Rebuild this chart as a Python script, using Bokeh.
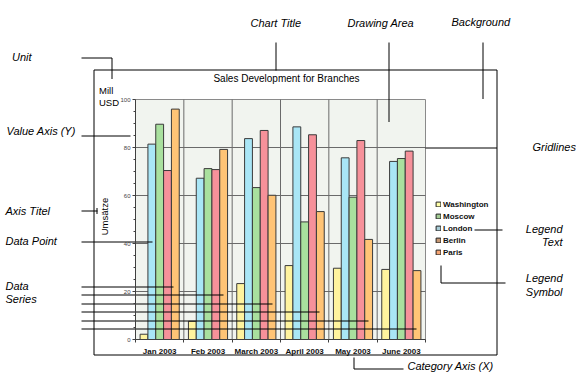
from math import pi
from bokeh.plotting import figure
from bokeh.models import (Range1d, FixedTicker, CustomJSTickFormatter, Label, Legend, LegendItem,
                          ColumnDataSource)
from bokeh.embed import file_html
from bokeh.resources import INLINE

# ---------------- data ----------------
categories = ["Jan 2003", "Feb 2003", "March 2003", "April 2003", "May 2003", "June 2003"]
washington = [2.2, 7.6, 23.3, 30.8, 29.7, 29.2]
london = [81.4, 67.2, 83.7, 88.6, 75.7, 74.2]
moscow = [89.7, 71.2, 63.3, 49.0, 59.3, 75.4]
berlin = [70.4, 70.8, 87.1, 85.3, 82.9, 78.5]
paris = [96.0, 79.2, 60.1, 53.3, 41.7, 28.7]
y_ticks = [0, 20, 40, 60, 80, 100]
y_minor = [5, 10, 15, 25, 30, 35, 45, 50, 55, 65, 70, 75, 85, 90, 95]
title_text = "Sales Development for Branches"
unit_lines = ["Mill", "USD"]
axis_title = "Umsätze"

# bar order in each group (left -> right) and legend order
bar_series = [("Washington", washington, "#FFF39E"),
              ("London", london, "#A9E6F6"),
              ("Moscow", moscow, "#A9E09E"),
              ("Berlin", berlin, "#F6919A"),
              ("Paris", paris, "#FFC476")]
legend_series = [("Washington", "#FFFFA8"),
                 ("Moscow", "#A3CC94"),
                 ("London", "#A8CCD6"),
                 ("Berlin", "#C69874"),
                 ("Paris", "#F6A472")]

FONT = "Liberation Sans"

# ---------------- layout (pixels) ----------------
W, H = 576, 377
PL, PR, PT, PB = 135, 425, 99, 339          # drawing area in the canvas
ncat = len(categories)
ymax = y_ticks[-1]
ux = (PR - PL) / ncat                        # px per category
uy = (PB - PT) / ymax                        # px per value unit

x_range = Range1d(-PL / ux, (W - PL) / ux)
y_range = Range1d(-(H - PB) / uy, PB / uy)

p = figure(width=W, height=H, x_range=x_range, y_range=y_range,
           min_border=0, min_border_left=0, min_border_right=0, min_border_top=0, min_border_bottom=0,
           output_backend="svg", toolbar_location=None, title=None)
p.background_fill_color = "white"
p.border_fill_color = "white"
p.outline_line_color = None
p.xgrid.visible = False
p.ygrid.visible = False

# pixel ranges for the annotation layer
p.extra_x_ranges = {"px": Range1d(0, W)}
p.extra_y_ranges = {"py": Range1d(H, 0)}

# drawing-area background
p.quad(left=[0], right=[ncat], bottom=[0], top=[ymax], fill_color="#F1F4EF", line_color="#8A8A8A")

# grid lines (category boundaries and value ticks)
bounds = list(range(1, ncat))
hgrid = y_ticks[1:-1]
p.segment(x0=bounds, y0=[0] * len(bounds), x1=bounds, y1=[ymax] * len(bounds),
          line_color="#6A6A6A", line_width=1)
p.segment(x0=[0] * len(hgrid), y0=hgrid, x1=[ncat] * len(hgrid), y1=hgrid,
          line_color="#6A6A6A", line_width=1)

# bars
bw = 0.162
n = len(bar_series)
for j, (name, vals, col) in enumerate(bar_series):
    off = (j - (n - 1) / 2) * bw
    xs = [i + 0.5 + off for i in range(ncat)]
    p.vbar(x=xs, top=vals, width=bw, bottom=0, fill_color=col, line_color="#3A3A3A", line_width=1)

# axes (fixed at the drawing area)
p.yaxis.fixed_location = 0
p.yaxis.bounds = (0, ymax)
p.yaxis.ticker = FixedTicker(ticks=y_ticks, minor_ticks=y_minor)
p.yaxis.major_tick_out = 3
p.yaxis.major_tick_in = 0
p.yaxis.minor_tick_out = 2
p.yaxis.minor_tick_in = 0
p.yaxis.major_label_text_font = FONT
p.yaxis.major_label_text_font_size = "6px"
p.yaxis.major_label_text_color = "#444444"
p.yaxis.major_label_standoff = 2
p.yaxis.axis_line_color = "#404040"
p.yaxis.major_tick_line_color = "#404040"
p.yaxis.minor_tick_line_color = "#404040"

p.xaxis.fixed_location = 0
p.xaxis.bounds = (0, ncat)
p.xaxis.ticker = FixedTicker(ticks=[i + 0.5 for i in range(ncat)],
                             minor_ticks=list(range(ncat + 1)))
p.xaxis.formatter = CustomJSTickFormatter(args=dict(labels=categories),
                                          code="return labels[Math.floor(tick)]")
p.xaxis.major_tick_out = 0
p.xaxis.major_tick_in = 0
p.xaxis.minor_tick_out = 3
p.xaxis.minor_tick_in = 0
p.xaxis.major_label_text_font = FONT
p.xaxis.major_label_text_font_size = "8px"
p.xaxis.major_label_text_font_style = "bold"
p.xaxis.major_label_text_color = "#111111"
p.xaxis.major_label_standoff = 4
p.xaxis.axis_line_color = "#404040"
p.xaxis.minor_tick_line_color = "#404040"

# legend (symbols via zero-size renderers carrying the legend colours)
items = []
for name, col in legend_series:
    r = p.vbar(x=[0.5], top=[0], bottom=[0], width=0, fill_color=col, line_color="#222222")
    items.append(LegendItem(label=name, renderers=[r]))
legend = Legend(items=items, location=(435, 120), orientation="vertical", padding=0, margin=0,
                spacing=2, glyph_width=6, glyph_height=6, label_standoff=2,
                label_text_font=FONT, label_text_font_size="8px", label_text_font_style="bold",
                label_height=10, label_text_color="#111111",
                border_line_alpha=0, background_fill_alpha=0)
p.add_layout(legend)


def lbl(x, y, text, size="10px", style="normal", align="left", angle=0.0):
    p.add_layout(Label(x=x, y=y, text=text, x_range_name="px", y_range_name="py",
                       text_font=FONT, text_font_size=size, text_font_style=style,
                       text_align=align, text_baseline="middle", text_color="black",
                       angle=angle))


# chart background border
p.quad(left=[93.5], right=[496.5], top=[69.5], bottom=[354.5], x_range_name="px", y_range_name="py",
       fill_alpha=0, line_color="black", line_width=1)

# chart texts
lbl(286, 78, title_text, size="10px", align="center")
lbl(98.5, 89.5, unit_lines[0], size="9.5px")
lbl(98.5, 101.5, unit_lines[1], size="9.5px")
lbl(103.5, 216, axis_title, size="9.5px", align="center", angle=pi / 2)

# annotation texts
A = "11px"
lbl(11.5, 56, "Unit", A, "italic")
lbl(250, 22, "Chart Title", A, "italic")
lbl(347, 22, "Drawing Area", A, "italic")
lbl(451, 21.5, "Background", A, "italic")
lbl(6, 130.5, "Value Axis (Y)", A, "italic")
lbl(532, 146, "Gridlines", A, "italic")
lbl(5, 210.5, "Axis Titel", A, "italic")
lbl(5, 240.5, "Data Point", A, "italic")
lbl(5, 285, "Data", A, "italic")
lbl(5, 298.5, "Series", A, "italic")
lbl(562, 228.5, "Legend", A, "italic", "right")
lbl(562, 241.5, "Text", A, "italic", "right")
lbl(562, 277.5, "Legend", A, "italic", "right")
lbl(562, 291.5, "Symbol", A, "italic", "right")
lbl(407, 365, "Category Axis (X)", A, "italic")

# leader lines
leaders = [
    (81, 57.5, 111.5, 57.5), (111.5, 57.5, 111.5, 78.5),
    (275.5, 42, 275.5, 70),
    (388.5, 42, 388.5, 121.5),
    (482.5, 42, 482.5, 98.5),
    (81, 135.5, 130, 135.5),
    (425, 147.5, 496.5, 147.5),
    (81, 210.5, 97, 210.5), (96.5, 207.5, 96.5, 213.5),
    (81, 241.5, 152, 241.5),
    (81, 286.5, 173, 286.5), (81, 294.5, 223, 294.5), (81, 303.5, 272, 303.5),
    (81, 311.5, 319, 311.5), (81, 320.5, 368, 320.5), (81, 328.5, 416, 328.5),
    (474, 229.5, 502, 229.5),
    (440.5, 265, 440.5, 282.5), (440.5, 282.5, 505, 282.5),
    (353.5, 357, 353.5, 368.5), (353.5, 368.5, 403, 368.5),
]
lsrc = ColumnDataSource(dict(x0=[s[0] for s in leaders], y0=[s[1] for s in leaders],
                             x1=[s[2] for s in leaders], y1=[s[3] for s in leaders]))
p.segment(x0="x0", y0="y0", x1="x1", y1="y1", source=lsrc, x_range_name="px", y_range_name="py",
          line_color="black", line_width=1)

open("out.html", "w").write(file_html(p, INLINE))
